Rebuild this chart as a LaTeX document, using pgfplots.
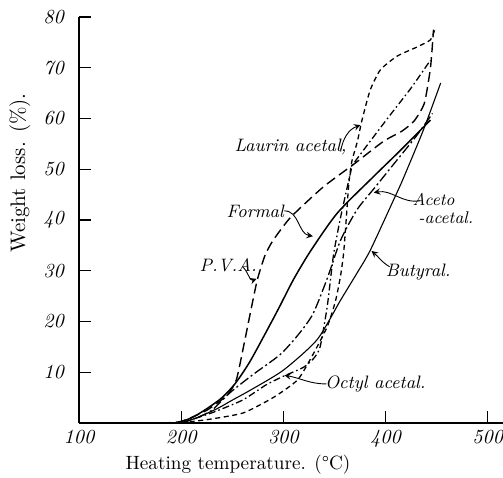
\documentclass[border=0pt]{standalone}
\usepackage{pgfplots}
\pgfplotsset{compat=1.18}
\begin{document}
\begin{tikzpicture}
\begin{axis}[
  scale only axis, width=212pt, height=203pt,
  xmin=100, xmax=515, ymin=0, ymax=80,
  axis x line=bottom, axis y line=left,
  axis line style={-, line width=0.8pt},
  xtick={100,200,300,400,500}, ytick={10,20,...,80},
  tick align=inside, major tick length=6pt,
  tick style={line width=0.6pt, black},
  ticklabel style={font=\fontsize{10}{12}\selectfont\itshape},
  /pgf/number format/assume math mode=true,
  yticklabel style={xshift=-4pt},
  clip=false,
]
\coordinate (ll) at (rel axis cs:0,0);
\coordinate (ur) at (rel axis cs:1,1);
\coordinate (yl) at (rel axis cs:0,0.616);
\coordinate (xl) at (rel axis cs:0.375,0);

% PVA (long dashes)
\addplot[black, line width=0.7pt, dash pattern=on 5pt off 2.5pt, smooth, tension=0.35] coordinates {
(180,0) (200,0.3) (225,2.5) (245,5.5) (254,8.5) (262,16) (268,22) (274.5,28.2) (282,33) (290,36) (307,40.5) (339,46.5) (369,51) (398,55.5) (416,57.5) (428,59.5) (438,63) (444,70) (447,77.5)};
% Formal (solid)
\addplot[black, line width=0.75pt, smooth, tension=0.45] coordinates {
(195,0) (210,1) (225,2.8) (240,5) (253,7.8) (267,12) (282,17.5) (296,22.8) (310,28.3) (327,34) (353,41.4) (388,48.5) (415,53.8) (444,59.7)};
% Butyral (thin solid)
\addplot[black, line width=0.55pt, smooth, tension=0.4] coordinates {
(200,0) (215,1) (235,2.8) (250,4.5) (268,6.5) (300,10.4) (333,16.4) (356,24.2) (372,29.5) (385,34) (408,44) (417,48) (437,57.7) (454,67)};
% Aceto-acetal (dash dot)
\addplot[black, line width=0.65pt, dash pattern=on 5pt off 1.5pt on 1pt off 1.5pt, smooth, tension=0.4] coordinates {
(200,0) (215,1) (230,2.5) (248,6) (270,9.5) (297,13.5) (315,17.5) (329,21.5) (343,28.5) (356,36) (372,42) (390,46.5) (410,51.5) (430,56.5) (446,61)};
% Octyl acetal (dash dot)
\addplot[black, line width=0.65pt, dash pattern=on 3.5pt off 1.5pt on 0.8pt off 1.5pt, smooth, tension=0.35] coordinates {
(200,0) (230,2) (260,4.5) (283,7.5) (300,9.2) (320,11) (330,12.8) (336,15) (343,23) (349,33) (356,40.5) (366,49.5) (369,51.2) (400,59.5) (425,66) (444,71.5)};
% Laurin acetal (short dashes)
\addplot[black, line width=0.65pt, dash pattern=on 2.5pt off 1.8pt, smooth, tension=0.35] coordinates {
(200,0) (230,0.8) (261,2) (290,5) (314,8.5) (329,13.5) (343,19) (351,24) (356,29) (359,33.5) (361.5,40) (364,47) (367,51.5) (372.5,55.5) (377,59.7) (385,65.6) (395,69.6) (411.5,72.3) (431,74.1) (444,75.5) (448,77.4)};

% curve labels
\begin{scope}[font=\fontsize{9}{10}\selectfont\itshape, inner sep=0pt]
\node at (axis cs:307,54.4) {Laurin acetal,};
\node at (axis cs:272.5,41.8) {Formal};
\node at (axis cs:246,31.1) {P.V.A.};
\node[font=\fontsize{8.5}{10}\selectfont\itshape] at (axis cs:447,44.1) {Aceto};
\node[font=\fontsize{8.5}{10}\selectfont\itshape] at (axis cs:459,40.5) {-acetal.};
\node at (axis cs:432,29.8) {Butyral.};
\node at (axis cs:390,7.7) {Octyl acetal.};
\end{scope}
\begin{scope}[line width=0.45pt, ->, >=stealth]
\draw (axis cs:301,41.8) to[out=0,in=170] (axis cs:329,36.8);
\draw (axis cs:260,30.8) to[out=-40,in=200] (axis cs:273.8,28.4);
\draw (axis cs:356,53.5) to[out=80,in=200] (axis cs:375.5,58.7);
\draw (axis cs:434,43.8) to[out=190,in=10] (axis cs:388.5,45.4);
\draw (axis cs:404,30.8) to[out=150,in=-40] (axis cs:386.3,33.9);
\draw (axis cs:342,7.7) to[out=180,in=-10] (axis cs:301,9.4);
\end{scope}

\node[rotate=90, font=\fontsize{10.5}{12}\selectfont] at ([xshift=-29.5pt]yl) {Weight loss. (\%).};
\node[anchor=base, font=\fontsize{9.6}{12}\selectfont] at ([yshift=-23.5pt]xl) {Heating temperature. (\textdegree C)};
\end{axis}
\pgfresetboundingbox
\path ([shift={(-39.5pt,-27.5pt)}]ll) rectangle ([shift={(0pt,8.5pt)}]ur);
\end{tikzpicture}
\end{document}
